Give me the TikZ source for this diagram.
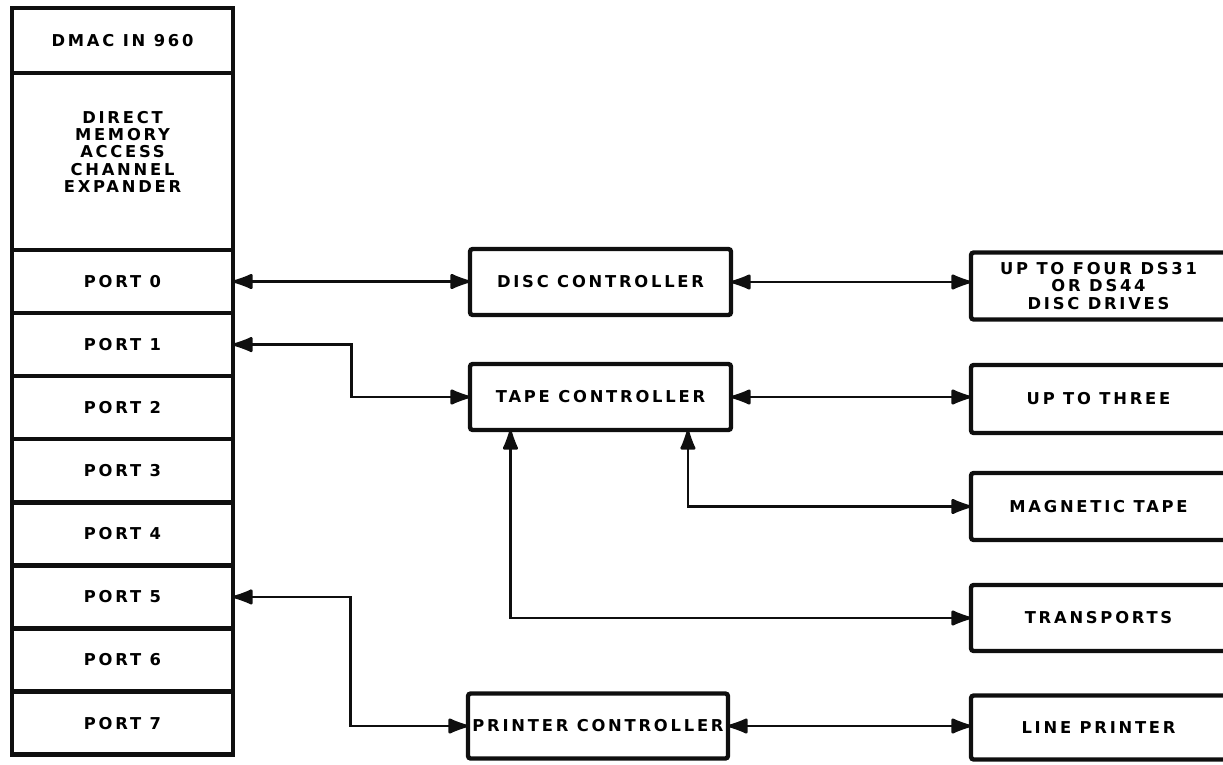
\documentclass[tikz,border=0pt]{standalone}
\usepackage{fontspec}
\usepackage{tikz}
\usetikzlibrary{arrows.meta, positioning, calc}
\newfontfamily\lettering{DejaVu Sans}[LetterSpace=17]
\definecolor{ink}{RGB}{15,15,15}
\tikzset{
  unitbox/.style={rectangle, draw=ink, line width=2.5pt, outer sep=0pt,
    minimum width=4.42cm, inner sep=0pt, align=center,
    font=\lettering\bfseries\fontsize{9.3}{9.9}\selectfont},
  ctrlbox/.style={unitbox, minimum width=5.22cm, minimum height=1.32cm,
    rounded corners=1.5pt},
  devbox/.style={unitbox, minimum width=5.1cm, minimum height=1.34cm,
    rounded corners=1.5pt},
  link/.style={<->, >={Latex[length=4.8mm, width=3.4mm, round]},
    line width=1.5pt, color=ink}
}

\begin{document}
\begin{tikzpicture}[x=0.02cm, y=-0.02cm]
  \useasboundingbox (0,0) rectangle (1223,764);
  \clip (0,0) rectangle (1223,764);

  % channel expander column
  \node[unitbox, minimum height=1.3cm] (dmac) at (122.5,40.5) {DMAC IN 960};
  \node[unitbox, minimum height=3.54cm, below=0pt of dmac] (dmce)
    {DIRECT\\MEMORY\\ACCESS\\CHANNEL\\EXPANDER\\[1pt]};
  \node[unitbox, minimum height=1.262cm, below=0pt of dmce] (port0) {PORT 0};
  \node[unitbox, minimum height=1.262cm, below=0pt of port0] (port1) {PORT 1};
  \node[unitbox, minimum height=1.262cm, below=0pt of port1] (port2) {PORT 2};
  \node[unitbox, minimum height=1.262cm, below=0pt of port2] (port3) {PORT 3};
  \node[unitbox, minimum height=1.262cm, below=0pt of port3] (port4) {PORT 4};
  \node[unitbox, minimum height=1.262cm, below=0pt of port4] (port5) {PORT 5};
  \node[unitbox, minimum height=1.262cm, below=0pt of port5] (port6) {PORT 6};
  \node[unitbox, minimum height=1.262cm, below=0pt of port6] (port7) {PORT 7};

  % controllers
  \node[ctrlbox] (disc) at (600.5,282) {DISC CONTROLLER};
  \node[ctrlbox] (tape) at (600.5,397) {TAPE CONTROLLER};
  \node[ctrlbox, minimum width=5.2cm, minimum height=1.3cm] (printer) at (598,726)
    {PRINTER CONTROLLER};

  % peripherals
  \node[devbox] (drives) at (1098.5,286) {UP TO FOUR DS31\\OR DS44\\DISC DRIVES};
  \node[devbox, minimum height=1.36cm] (three) at (1098.5,399) {UP TO THREE};
  \node[devbox] (magtape) at (1098.5,506.5) {MAGNETIC TAPE};
  \node[devbox, minimum height=1.32cm] (transports) at (1098.5,618) {TRANSPORTS};
  \node[devbox, minimum height=1.28cm] (lineprt) at (1098.5,727.5) {LINE PRINTER};

  \draw[link] (port0.east) -- (disc.west |- port0.east);
  \draw[link] (disc.east) -- (drives.west |- disc.east);
  \draw[link] (port1.east) -| ($(port1.east)!0.5!(tape.west)$) |- (tape.west);
  \draw[link] (tape.east) -- (three.west |- tape.east);
  \draw[link] ($(tape.south west)!0.835!(tape.south east)$) |- (magtape.west);
  \draw[link] ($(tape.south west)!0.155!(tape.south east)$) |- (transports.west);
  \draw[link] (port5.east) -| ($(port5.east)!0.5!(printer.west)$) |- (printer.west);
  \draw[link] (printer.east) -- (lineprt.west |- printer.east);
\end{tikzpicture}
\end{document}
